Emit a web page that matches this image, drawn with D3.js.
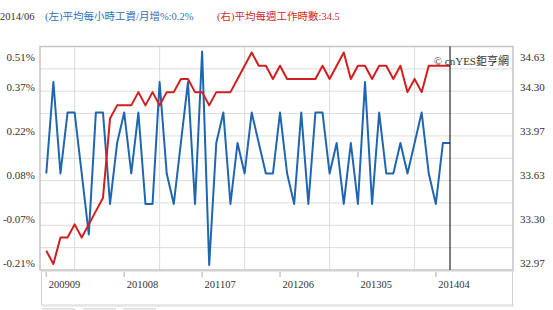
<!DOCTYPE html>
<html>
<head>
<meta charset="utf-8">
<script src="https://cdn.jsdelivr.net/npm/d3@7"></script>
<style>
  body { margin: 0; background: #fff; }
  svg { display: block; }
</style>
</head>
<body>
<div id="chart"></div>
<script>
// monthly data, 2009/09 .. 2014/06
const months = d3.timeMonth.range(new Date(2009, 8, 1), new Date(2014, 6, 1));
// (left) average hourly earnings, monthly change %
const wageChange = [0.1, 0.4, 0.1, 0.3, 0.3, 0.1, -0.1, 0.3, 0.3, 0.0,
  0.2, 0.3, 0.1, 0.3, 0.0, 0.0, 0.4, 0.1, 0.0, 0.2,
  0.4, 0.0, 0.5, -0.2, 0.2, 0.3, 0.0, 0.2, 0.1, 0.3,
  0.2, 0.1, 0.1, 0.3, 0.1, 0.0, 0.3, 0.0, 0.3, 0.3,
  0.1, 0.2, 0.0, 0.2, 0.0, 0.4, 0.0, 0.3, 0.1, 0.1,
  0.2, 0.1, 0.2, 0.3, 0.1, 0.0, 0.2, 0.2];
// (right) average weekly hours
const weeklyHours = [33.1, 33.0, 33.2, 33.2, 33.3, 33.2, 33.3, 33.4, 33.5, 34.1,
  34.2, 34.2, 34.2, 34.3, 34.2, 34.3, 34.2, 34.3, 34.3, 34.4,
  34.4, 34.3, 34.3, 34.2, 34.3, 34.3, 34.3, 34.4, 34.5, 34.6,
  34.5, 34.5, 34.4, 34.5, 34.4, 34.4, 34.4, 34.4, 34.4, 34.5,
  34.4, 34.5, 34.6, 34.4, 34.5, 34.5, 34.4, 34.5, 34.5, 34.4,
  34.5, 34.3, 34.4, 34.3, 34.5, 34.5, 34.5, 34.5];
const leftTicks = ['0.51%', '0.37%', '0.22%', '0.08%', '-0.07%', '-0.21%'];
const rightTicks = ['34.63', '34.30', '33.97', '33.63', '33.30', '32.97'];
const xTickLabels = ['200909', '201008', '201107', '201206', '201305', '201404'];

const width = 553, height = 310;
const plot = { left: 40, right: 513, top: 46.5, bottom: 270 };
const serif = '"Liberation Serif", "Times New Roman", "Noto Sans CJK TC", serif';

const svg = d3.select('#chart').append('svg')
  .attr('width', width)
  .attr('height', height)
  .style('font-family', serif);

// scales
const fmt = d3.timeFormat('%Y%m');
const x = d3.scaleLinear().domain([0, months.length - 1]).range([46.3, 450]);
const yL = d3.scaleLinear().domain([-0.21, 0.51]).range([268, 48.5]);
const yR = d3.scaleLinear().domain([32.97, 34.63]).range([268, 48.5]);
const gridY = d3.scaleLinear().domain([0, 10]).range([plot.bottom, plot.top]);

// header
svg.append('text').attr('x', 0).attr('y', 20)
  .style('font-size', '10.5px').attr('fill', '#333')
  .text('2014/06');
svg.append('text').attr('x', 45).attr('y', 20)
  .style('font-size', '10.5px').attr('fill', '#2f6fb8')
  .text('(左)平均每小時工資/月增%:' + wageChange[wageChange.length - 1].toFixed(1) + '%');
svg.append('text').attr('x', 217).attr('y', 20)
  .style('font-size', '10.5px').attr('fill', '#d22a2a')
  .text('(右)平均每週工作時數:' + weeklyHours[weeklyHours.length - 1]);

// horizontal grid
svg.append('g').selectAll('line')
  .data(d3.range(1, 10))
  .enter().append('line')
  .attr('x1', plot.left).attr('x2', plot.right)
  .attr('y1', d => gridY(d)).attr('y2', d => gridY(d))
  .attr('stroke', '#dcdcdc').attr('stroke-width', 1);

// vertical grid at each january
const janIdx = months.map((m, i) => i).filter(i => months[i].getMonth() === 0);
svg.append('g').selectAll('line')
  .data(janIdx)
  .enter().append('line')
  .attr('x1', d => x(d)).attr('x2', d => x(d))
  .attr('y1', plot.top).attr('y2', plot.bottom)
  .attr('stroke', '#dcdcdc').attr('stroke-width', 1);

// plot frame
svg.append('rect')
  .attr('x', plot.left).attr('y', plot.top)
  .attr('width', plot.right - plot.left).attr('height', plot.bottom - plot.top)
  .attr('fill', 'none').attr('stroke', '#c4c4c4').attr('stroke-width', 1.5);

// y labels
const labelY = i => Math.max(57, yL(-0.21 + (5 - i) * 0.144) - 5);
svg.append('g').selectAll('text')
  .data(leftTicks)
  .enter().append('text')
  .attr('x', 35).attr('y', (d, i) => labelY(i))
  .attr('dy', '0.35em').attr('text-anchor', 'end')
  .style('font-size', '11px').attr('fill', '#333')
  .text(d => d);
svg.append('g').selectAll('text')
  .data(rightTicks)
  .enter().append('text')
  .attr('x', 520).attr('y', (d, i) => labelY(i))
  .attr('dy', '0.35em')
  .style('font-size', '11px').attr('fill', '#333')
  .text(d => d);

// lines
svg.append('path')
  .datum(wageChange)
  .attr('fill', 'none').attr('stroke', '#1f66b2').attr('stroke-width', 2)
  .attr('stroke-linejoin', 'round')
  .attr('d', d3.line().x((d, i) => x(i)).y(d => yL(d)));

svg.append('path')
  .datum(weeklyHours)
  .attr('fill', 'none').attr('stroke', '#d11f1f').attr('stroke-width', 2)
  .attr('stroke-linejoin', 'round')
  .attr('d', d3.line().x((d, i) => x(i)).y(d => yR(d)));

// cursor line at last point
svg.append('line')
  .attr('x1', x(months.length - 1)).attr('x2', x(months.length - 1))
  .attr('y1', plot.top).attr('y2', plot.bottom)
  .attr('stroke', '#000').attr('stroke-width', 1);

// credit
svg.append('text').attr('x', 509).attr('y', 61)
  .attr('dy', '0.35em').attr('text-anchor', 'end')
  .style('font-size', '11px').attr('fill', '#333')
  .text('© cnYES鉅亨網');

// x label band
svg.append('rect')
  .attr('x', 41.5).attr('y', 271).attr('width', 471).attr('height', 34)
  .attr('fill', '#fff').attr('stroke', '#d0d0d0').attr('stroke-width', 1);
svg.append('line')
  .attr('x1', 42).attr('x2', 514).attr('y1', 306).attr('y2', 306)
  .attr('stroke', '#e4e4e4').attr('stroke-width', 1.5);

const tickIdx = xTickLabels.map(t => months.findIndex(m => fmt(m) === t));
const xt = svg.append('g').selectAll('g')
  .data(tickIdx)
  .enter().append('g')
  .attr('transform', d => `translate(${x(d)},0)`);
xt.append('line')
  .attr('y1', 272).attr('y2', 277)
  .attr('stroke', '#c8c8c8').attr('stroke-width', 1.5);
xt.append('text')
  .attr('x', 2.5).attr('y', 284).attr('dy', '0.35em')
  .style('font-size', '10.5px').attr('fill', '#333')
  .text((d, i) => xTickLabels[i]);

// buttons peeking at bottom
svg.append('g').selectAll('rect')
  .data([42, 83, 123])
  .enter().append('rect')
  .attr('x', d => d).attr('y', 308.5).attr('width', 33).attr('height', 6).attr('rx', 2)
  .attr('fill', '#f2f2f2').attr('stroke', '#d8d8d8');
</script>
</body>
</html>
